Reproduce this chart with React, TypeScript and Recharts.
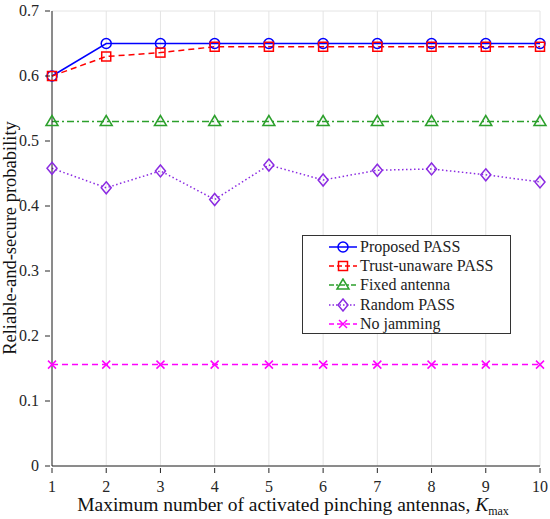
import { CartesianGrid, Label, Line, LineChart, XAxis, YAxis } from "recharts";

const kValues = [1, 2, 3, 4, 5, 6, 7, 8, 9, 10];
const proposed = [0.6, 0.65, 0.65, 0.65, 0.65, 0.65, 0.65, 0.65, 0.65, 0.65];
const trustUnaware = [0.6, 0.63, 0.636, 0.645, 0.645, 0.645, 0.645, 0.645, 0.645, 0.645];
const fixedAntenna = [0.53, 0.53, 0.53, 0.53, 0.53, 0.53, 0.53, 0.53, 0.53, 0.53];
const randomPass = [0.458, 0.428, 0.454, 0.41, 0.463, 0.44, 0.455, 0.457, 0.448, 0.437];
const noJamming = [0.156, 0.156, 0.156, 0.156, 0.156, 0.156, 0.156, 0.156, 0.156, 0.156];
const yTicks = [0, 0.1, 0.2, 0.3, 0.4, 0.5, 0.6, 0.7];

const data = kValues.map((k, i) => ({
  k,
  proposed: proposed[i],
  trust: trustUnaware[i],
  fixed: fixedAntenna[i],
  random: randomPass[i],
  nojam: noJamming[i],
}));

const FONT = "'Liberation Serif', 'DejaVu Serif', serif";
const AXIS = "#262626";

type Shape = "circle" | "square" | "triangle" | "diamond" | "cross";

const series: { key: string; name: string; color: string; dash?: string; legendDash?: string; shape: Shape }[] = [
  { key: "proposed", name: "Proposed PASS", color: "#0000ff", shape: "circle" },
  { key: "trust", name: "Trust-unaware PASS", color: "#ff0000", dash: "6 4", legendDash: "5 3", shape: "square" },
  { key: "fixed", name: "Fixed antenna", color: "#2ca02c", dash: "7 3 2 3", legendDash: "5 2 2 2", shape: "triangle" },
  { key: "random", name: "Random PASS", color: "#8b2be2", dash: "1.5 2.5", legendDash: "1.5 2", shape: "diamond" },
  { key: "nojam", name: "No jamming", color: "#ff00ff", dash: "6 4", legendDash: "5 3", shape: "cross" },
];

function Marker({ cx, cy, color, shape }: { cx: number; cy: number; color: string; shape: Shape }) {
  const s = { fill: "none", stroke: color, strokeWidth: 1.5 };
  if (shape === "circle") return <circle cx={cx} cy={cy} r={5} {...s} />;
  if (shape === "square") return <rect x={cx - 4.5} y={cy - 4.5} width={9} height={9} {...s} />;
  if (shape === "triangle") return <polygon points={`${cx},${cy - 6} ${cx - 6},${cy + 4} ${cx + 6},${cy + 4}`} {...s} />;
  if (shape === "diamond") return <polygon points={`${cx},${cy - 6} ${cx + 5},${cy} ${cx},${cy + 6} ${cx - 5},${cy}`} {...s} />;
  return (
    <g {...s}>
      <line x1={cx - 4} y1={cy - 4} x2={cx + 4} y2={cy + 4} />
      <line x1={cx - 4} y1={cy + 4} x2={cx + 4} y2={cy - 4} />
    </g>
  );
}

function makeDot(color: string, shape: Shape) {
  return (props: any) => {
    const { cx, cy, index } = props;
    if (cx == null || cy == null) return <g key={index} />;
    return <Marker key={index} cx={cx} cy={cy} color={color} shape={shape} />;
  };
}

function BottomTick({ x, y, payload }: any) {
  return (
    <g>
      <line x1={x} y1={y - 1} x2={x} y2={y - 6} stroke={AXIS} strokeWidth={1} />
      <text x={x} y={y + 18} textAnchor="middle" fontFamily={FONT} fontSize={16} fill={AXIS}>
        {payload.value}
      </text>
    </g>
  );
}

function LeftTick({ x, y, payload }: any) {
  return (
    <g>
      <line x1={x + 1} y1={y} x2={x + 6} y2={y} stroke={AXIS} strokeWidth={1} />
      <text x={x - 5} y={y + 5} textAnchor="end" fontFamily={FONT} fontSize={16} fill={AXIS}>
        {payload.value === 0 ? "0" : payload.value.toFixed(1)}
      </text>
    </g>
  );
}

function TopTick({ x, y }: any) {
  return <line x1={x} y1={y} x2={x} y2={y + 5} stroke={AXIS} strokeWidth={1} />;
}

function RightTick({ x, y }: any) {
  return <line x1={x} y1={y} x2={x - 5} y2={y} stroke={AXIS} strokeWidth={1} />;
}

function LegendBox() {
  return (
    <div
      style={{
        position: "absolute",
        left: 302,
        top: 235,
        width: 209,
        height: 99,
        border: "1px solid #333",
        background: "#fff",
        boxSizing: "border-box",
        paddingTop: 1,
        fontFamily: FONT,
        fontSize: 16,
        color: "#222",
      }}
    >
      {series.map((s) => (
        <div key={s.key} style={{ display: "flex", alignItems: "center", height: 19.4 }}>
          <svg width={28} height={14} style={{ marginLeft: 26, marginRight: 3 }}>
            <line x1={0} y1={7} x2={28} y2={7} stroke={s.color} strokeWidth={1.5} strokeDasharray={s.legendDash} />
            <Marker cx={14} cy={7} color={s.color} shape={s.shape} />
          </svg>
          <span style={{ whiteSpace: "nowrap" }}>{s.name}</span>
        </div>
      ))}
    </div>
  );
}

export default function App() {
  return (
    <div style={{ position: "absolute", left: 0, top: 0, width: 550, height: 519, background: "#fff" }}>
      <LineChart width={550} height={519} data={data} margin={{ top: 11, right: 10, left: 12, bottom: 23 }}>
        <CartesianGrid stroke="#e4e4e4" strokeWidth={1} />
        <XAxis
          xAxisId="bottom"
          dataKey="k"
          type="number"
          domain={[1, 10]}
          ticks={kValues}
          axisLine={{ stroke: AXIS }}
          tickLine={false}
          tick={<BottomTick />}
          height={30}
          interval={0}
        >
          <Label
            content={() => (
              <text x={293} y={511} textAnchor="middle" fontFamily={FONT} fontSize={19.5} fill="#111">
                Maximum number of activated pinching antennas,{" "}
                <tspan fontStyle="italic">K</tspan>
                <tspan fontSize={12} dy={4}>max</tspan>
              </text>
            )}
          />
        </XAxis>
        <XAxis
          xAxisId="top"
          orientation="top"
          dataKey="k"
          type="number"
          domain={[1, 10]}
          ticks={kValues}
          axisLine={{ stroke: AXIS }}
          tickLine={false}
          tick={<TopTick />}
          height={0}
          interval={0}
        />
        <YAxis
          yAxisId="left"
          domain={[0, 0.7]}
          ticks={yTicks}
          axisLine={{ stroke: AXIS }}
          tickLine={false}
          tick={<LeftTick />}
          width={40}
          interval={0}
        >
          <Label
            content={() => (
              <text
                x={16}
                y={238}
                transform="rotate(-90 16 238)"
                textAnchor="middle"
                fontFamily={FONT}
                fontSize={18.5}
                fill="#111"
              >
                Reliable-and-secure probability
              </text>
            )}
          />
        </YAxis>
        <YAxis
          yAxisId="right"
          orientation="right"
          domain={[0, 0.7]}
          ticks={yTicks}
          axisLine={{ stroke: AXIS }}
          tickLine={false}
          tick={<RightTick />}
          width={0}
          interval={0}
        />
        {series.map((s) => (
          <Line
            key={s.key}
            xAxisId="bottom"
            yAxisId="left"
            dataKey={s.key}
            name={s.name}
            stroke={s.color}
            strokeWidth={1.5}
            strokeDasharray={s.dash}
            dot={makeDot(s.color, s.shape)}
            activeDot={false}
            isAnimationActive={false}
          />
        ))}
      </LineChart>
      <LegendBox />
    </div>
  );
}
